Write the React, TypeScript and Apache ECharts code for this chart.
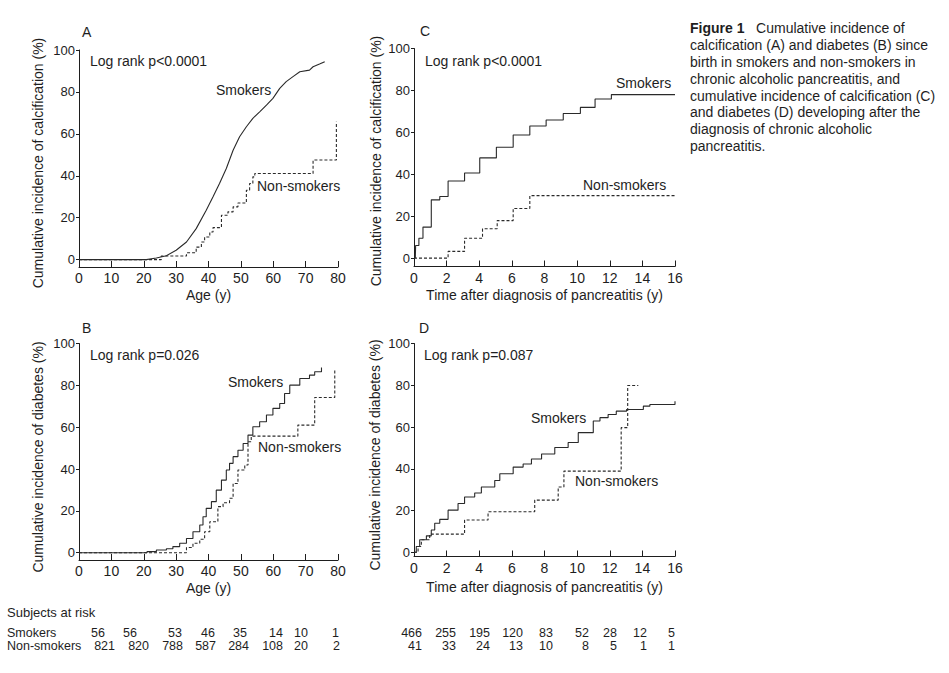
import React, { useEffect, useRef } from "react";
import * as echarts from "echarts";

// ---------- data ----------
const yTicks = [0, 20, 40, 60, 80, 100];

// Panel A: calcification since birth (age, %)
const aSmokersAge = [0, 20.8, 23.9, 27, 30, 33.2, 36.2, 39.3, 41.4, 43.4, 45.5, 47.6, 49.6, 51.7, 53.7, 55.8, 57.9, 59.9, 62, 64, 66.1, 68.2, 71.2, 72.3, 74.3, 75.9];
const aSmokersVal = [0, 0, 0.8, 1.9, 4.5, 8.4, 14.8, 23.6, 30, 36.3, 43.5, 52.2, 58.6, 63.4, 67.4, 70.5, 73.7, 76.9, 81.7, 84.9, 87.3, 89.6, 90.4, 92, 93.3, 94.4];
const aNonAge = [0, 25.4, 33.2, 36.2, 37.8, 38.8, 40.4, 41.4, 44, 46, 47.6, 49.1, 51.7, 52.7, 53.7, 54.3, 72.3, 79.5];
const aNonVal = [0, 1.75, 3.3, 6, 8.4, 10.8, 13.2, 15.3, 21.2, 22.8, 25.2, 27, 33.1, 36.3, 39.5, 41.1, 47.5, 65.8];

// Panel B: diabetes since birth
const bSmokersAge = [0, 21, 23.9, 27, 29, 31.1, 33.2, 35.2, 37.3, 38.3, 39.3, 40.9, 42.4, 44, 45.5, 46.5, 47.6, 49.1, 50.7, 52.2, 53.7, 55.8, 57.9, 59.9, 62, 63.5, 65.1, 68.2, 71.2, 72.8, 74.9];
const bSmokersVal = [0, 0.5, 1.3, 1.9, 2.9, 4.5, 6.8, 10, 13.2, 17.2, 21.2, 24.4, 29.9, 34.7, 39.5, 42.7, 45.9, 49, 52.2, 56.2, 60.2, 62.6, 65.8, 69, 71.3, 76.1, 80.1, 83.3, 84.9, 86.5, 88.5];
const bNonAge = [0, 33.2, 35.2, 37.3, 38.8, 40.4, 42.9, 44.5, 46.5, 47.6, 49.1, 51.2, 52.2, 53.2, 67.6, 72.8, 79];
const bNonVal = [0, 2.5, 4.5, 6.4, 10, 14.8, 22, 23.9, 26, 33.1, 39.5, 41.9, 53, 55.7, 61, 74.2, 87.3];

// Panel C: calcification after diagnosis (years, %)
const cSmokersT = [0.08, 0.1, 0.3, 0.55, 1.06, 1.58, 2.09, 3.1, 4.03, 5.05, 6.08, 7.1, 8.1, 9.15, 10.2, 11.1, 12.1, 16];
const cSmokersVal = [0, 6, 9.5, 14.8, 27.8, 29.4, 36.8, 40.6, 47.8, 52.9, 58.7, 63, 65.9, 69, 71.9, 75.9, 78, 78];
const cNonT = [0, 2.09, 3.1, 4.2, 5.1, 6.08, 7.1, 16];
const cNonVal = [0, 3.2, 9.5, 14, 17.9, 23.7, 29.8, 29.8];

// Panel D: diabetes after diagnosis
const dSmokersT = [0, 0.14, 0.35, 0.76, 1.06, 1.27, 1.58, 2.09, 2.7, 3.1, 3.72, 4.13, 4.95, 5.26, 6.08, 6.69, 7.2, 7.82, 8.63, 9.45, 10.07, 10.99, 11.4, 11.9, 12.4, 13.03, 14.06, 14.46, 16];
const dSmokersVal = [0, 2.8, 6, 7.9, 10.7, 13.9, 15.8, 20.2, 23.4, 26.5, 28.4, 31.3, 34.4, 37.6, 40.8, 42.3, 44.7, 47.1, 50.2, 52.6, 57.3, 62.9, 64.5, 66, 67.6, 68.4, 70, 70.8, 72.4];
const dNonT = [0, 0.25, 0.45, 0.96, 3.1, 4.54, 7.4, 8.84, 9.19, 12.7, 13.1, 13.75];
const dNonVal = [0, 2.8, 6, 8.7, 15.5, 19.4, 25, 31.3, 38.9, 59.7, 79.9, 79.9];

// Subjects at risk
const riskAgeSmokers = [56, 56, 53, 46, 35, 14, 10, 1];
const riskAgeNon = [821, 820, 788, 587, 284, 108, 20, 2];
const riskTimeSmokers = [466, 255, 195, 120, 83, 52, 28, 12, 5];
const riskTimeNon = [41, 33, 24, 13, 10, 8, 5, 1, 1];

const captionLines = [
  "{b|Figure 1}   Cumulative incidence of",
  "calcification (A) and diabetes (B) since",
  "birth in smokers and non-smokers in",
  "chronic alcoholic pancreatitis, and",
  "cumulative incidence of calcification (C)",
  "and diabetes (D) developing after the",
  "diagnosis of chronic alcoholic",
  "pancreatitis.",
];

// ---------- layout ----------
const FONT = "'Liberation Sans', Arial, sans-serif";
const INK = "#1e1e1e";
const LINE = "#2a2a2a";

const zip = (xs: number[], ys: number[]) => xs.map((x, i) => [x, ys[i]]);

export default function App() {
  const ref = useRef<HTMLDivElement>(null);

  useEffect(() => {
    if (!ref.current) return;
    const chart = echarts.init(ref.current, null, { renderer: "svg" });

    const grids = [
      { left: 79, top: 50, width: 259, height: 217 }, // A
      { left: 414, top: 48.5, width: 261, height: 218 }, // C
      { left: 79, top: 343.5, width: 259, height: 216.5 }, // B
      { left: 414, top: 343.5, width: 261, height: 213 }, // D
    ];
    const yMins = [-3.5, -4, -3.5, -2];
    const xMax = [80, 16, 80, 16];
    const xInt = [10, 2, 10, 2];
    const xNames = ["Age (y)", "Time after diagnosis of pancreatitis (y)", "Age (y)", "Time after diagnosis of pancreatitis (y)"];
    const xNameGap = [21, 21, 21, 23];

    const xAxes = grids.map((_, i) => ({
      type: "value",
      gridIndex: i,
      min: 0,
      max: xMax[i],
      interval: xInt[i],
      name: xNames[i],
      nameLocation: "middle",
      nameGap: xNameGap[i],
      nameTextStyle: { fontSize: 14, color: INK, fontFamily: FONT },
      axisLine: { show: true, onZero: false, lineStyle: { color: INK, width: 1 } },
      axisTick: { show: true, inside: true, length: 6, lineStyle: { color: INK, width: 1 } },
      axisLabel: { fontSize: 14, color: INK, fontFamily: FONT, margin: 4 },
      splitLine: { show: false },
    }));
    const yAxes = grids.map((_, i) => ({
      type: "value",
      gridIndex: i,
      min: yMins[i],
      max: 100,
      axisLine: { show: true, onZero: false, lineStyle: { color: INK, width: 1 } },
      axisTick: { show: true, inside: false, length: 3, customValues: yTicks, lineStyle: { color: INK, width: 1 } },
      axisLabel: { fontSize: 13, color: INK, fontFamily: FONT, margin: 4, customValues: yTicks },
      splitLine: { show: false },
    }));

    const solid = { color: LINE, width: 1.1, type: "solid" };
    const dashed = { color: LINE, width: 1.1, type: [3, 2] };
    const mk = (idx: number, data: number[][], style: any, step: any) => ({
      type: "line",
      xAxisIndex: idx,
      yAxisIndex: idx,
      data,
      step,
      symbol: "none",
      lineStyle: style,
      silent: true,
    });

    const series = [
      mk(0, zip(aSmokersAge, aSmokersVal), solid, false),
      mk(0, zip(aNonAge, aNonVal), dashed, "end"),
      mk(1, zip(cSmokersT, cSmokersVal), solid, "end"),
      mk(1, zip(cNonT, cNonVal), dashed, "end"),
      mk(2, zip(bSmokersAge, bSmokersVal), solid, "end"),
      mk(2, zip(bNonAge, bNonVal), dashed, "end"),
      mk(3, zip(dSmokersT, dSmokersVal), solid, "end"),
      mk(3, zip(dNonT, dNonVal), dashed, "end"),
    ];

    const txt = (text: string, x: number, y: number, opts: any = {}) => ({
      type: "text",
      x,
      y,
      silent: true,
      rotation: opts.rotation || 0,
      style: {
        text,
        fill: INK,
        fontSize: opts.fontSize || 14,
        fontFamily: FONT,
        fontWeight: opts.fontWeight || "normal",
        align: opts.align || "left",
        verticalAlign: "middle",
      },
    });

    const graphics: any[] = [
      // panel letters
      txt("A", 82, 32),
      txt("C", 420, 31),
      txt("B", 82, 328),
      txt("D", 419, 328),
      // y-axis names
      txt("Cumulative incidence of calcification (%)", 38, 163, { rotation: Math.PI / 2, align: "center" }),
      txt("Cumulative incidence of calcification (%)", 376, 161, { rotation: Math.PI / 2, align: "center" }),
      txt("Cumulative incidence of diabetes (%)", 38, 457, { rotation: Math.PI / 2, align: "center" }),
      txt("Cumulative incidence of diabetes (%)", 375, 455, { rotation: Math.PI / 2, align: "center" }),
      // in-plot labels
      txt("Log rank p<0.0001", 90, 61),
      txt("Smokers", 216, 90),
      txt("Non-smokers", 257, 186),
      txt("Log rank p<0.0001", 425, 61),
      txt("Smokers", 616, 83),
      txt("Non-smokers", 583, 185),
      txt("Log rank p=0.026", 90, 355),
      txt("Smokers", 228, 382),
      txt("Non-smokers", 258, 447),
      txt("Log rank p=0.087", 424, 355),
      txt("Smokers", 531, 418),
      txt("Non-smokers", 575, 481),
      // subjects at risk
      txt("Subjects at risk", 7, 612, { fontSize: 13 }),
      txt("Smokers", 7, 633, { fontSize: 12.5 }),
      txt("Non-smokers", 7, 646, { fontSize: 12.5 }),
    ];

    const leftColSmokers = [105, 137, 182, 215, 247, 283, 308, 339];
    const leftColNon = [115, 149, 183, 216, 249, 283, 308, 340];
    const rightCols = [422, 456, 490, 523, 553, 589, 617, 647, 675];
    riskAgeSmokers.forEach((v, i) => graphics.push(txt(String(v), leftColSmokers[i], 633, { align: "right", fontSize: 12.5 })));
    riskAgeNon.forEach((v, i) => graphics.push(txt(String(v), leftColNon[i], 646, { align: "right", fontSize: 12.5 })));
    riskTimeSmokers.forEach((v, i) => graphics.push(txt(String(v), rightCols[i], 633, { align: "right", fontSize: 12.5 })));
    riskTimeNon.forEach((v, i) => graphics.push(txt(String(v), rightCols[i], 646, { align: "right", fontSize: 12.5 })));

    // caption
    graphics.push({
      type: "text",
      x: 690,
      y: 20,
      silent: true,
      style: {
        text: captionLines.join("\n"),
        fill: INK,
        fontSize: 14,
        fontFamily: FONT,
        lineHeight: 16.8,
        align: "left",
        verticalAlign: "top",
        rich: {
          b: { fontWeight: "bold", fontSize: 14, fontFamily: FONT, fill: INK, lineHeight: 16.8 },
        },
      },
    });

    chart.setOption({
      animation: false,
      backgroundColor: "#ffffff",
      grid: grids,
      xAxis: xAxes,
      yAxis: yAxes,
      series,
      graphic: graphics,
    });

    return () => chart.dispose();
  }, []);

  return (
    <div
      ref={ref}
      style={{ position: "fixed", left: 0, top: 0, width: 949, height: 673, background: "#fff" }}
    />
  );
}
